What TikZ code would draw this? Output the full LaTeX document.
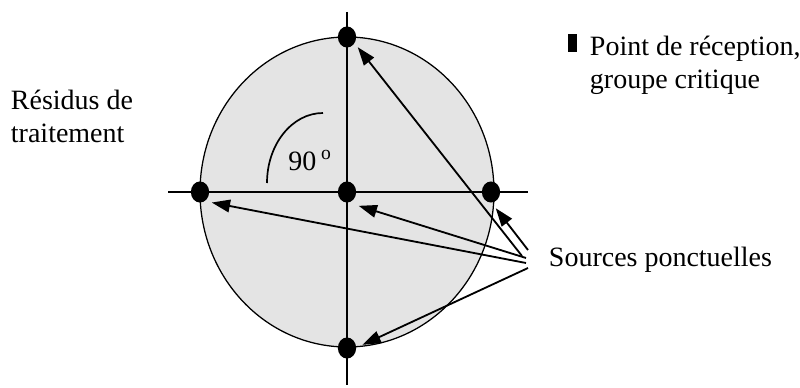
\documentclass[tikz,border=0pt]{standalone}
\usepackage{fontspec}
\setmainfont{Liberation Serif}
\usetikzlibrary{arrows.meta,shapes.geometric}
\definecolor{disk}{HTML}{E4E4E4}

\begin{document}
\begin{tikzpicture}[x=0.025cm, y=-0.025cm, >={Triangle[length=13pt,width=9pt]},
  every node/.style={font=\fontsize{19.9}{23}\selectfont},
  dot/.style={ellipse, fill=black, inner sep=0pt, minimum width=13, minimum height=15},
  ptr/.style={->, line width=1.3pt, shorten >=2pt}]
\useasboundingbox (0,0) rectangle (800,387);

% Disc and axes
\filldraw[fill=disk, line width=0.9pt] (347,192) ellipse [x radius=147, y radius=155];
\draw[line width=0.9pt] (347,12) -- (347,385);
\draw[line width=0.9pt] (168,192) -- (528,192);

% Angle mark
\draw[line width=1.2pt] (267,183) arc [start angle=180, end angle=270, x radius=56, y radius=70];
\node[anchor=base] (ang) at (310,170) {90\,$^{\mathrm{o}}$};

% Point sources
\node[dot] (top) at (347,37) {};
\node[dot] (left) at (200,192) {};
\node[dot] (mid) at (347,192) {};
\node[dot] (right) at (491,192) {};
\node[dot] (bot) at (347,348) {};

% Labels
\node[anchor=base west, align=left] (res) at (6,142) {Résidus de\\traitement};
\fill (568,34) rectangle (577,52);
\node[anchor=base west, align=left] (rec) at (585,88) {Point de réception,\\groupe critique};
\node[anchor=base west] (src) at (544,266) {Sources ponctuelles};

% Pointers
\coordinate (t1) at (522,256);
\coordinate (t2) at (528,250);
\coordinate (t3) at (526,258);
\coordinate (t4) at (526,263);
\coordinate (t5) at (528,268);
\draw[ptr] (t1) -- ([shift={(9,8)}]top.center);
\draw[ptr] (t2) -- ([shift={(3,14)}]right.center);
\draw[ptr] (t3) -- ([shift={(9,13)}]mid.center);
\draw[ptr] (t4) -- ([shift={(9,10)}]left.center);
\draw[ptr] (t5) -- ([shift={(13,-2)}]bot.center);
\end{tikzpicture}
\end{document}
